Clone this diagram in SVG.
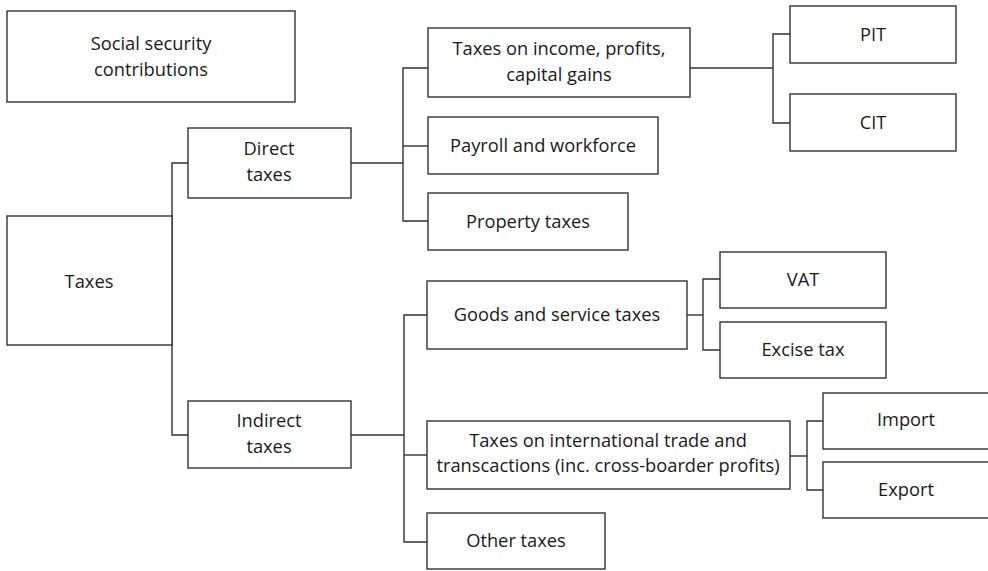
<svg xmlns="http://www.w3.org/2000/svg" width="988" height="571" viewBox="0 0 988 571">
  <style>
    .box { fill: #ffffff; stroke: #333333; stroke-width: 1.4; }
    .lbl { font-family: "Open Sans", "Liberation Sans", sans-serif; font-size: 18.3px; fill: #1a1a1a; text-anchor: middle; }
    .wire { fill: none; stroke: #333333; stroke-width: 1.4; }
  </style>
  <rect width="988" height="571" fill="#ffffff"/>

  <!-- tree connectors -->
  <g id="connectors">
    <!-- Taxes -> Direct / Indirect -->
    <polyline class="wire" points="188,163 172,163 172,435 188,435"/>
    <!-- Direct -> its three children -->
    <line class="wire" x1="351" y1="163" x2="403" y2="163"/>
    <polyline class="wire" points="428,68 403,68 403,221 428,221"/>
    <line class="wire" x1="403" y1="146" x2="428" y2="146"/>
    <!-- Income taxes -> PIT / CIT -->
    <line class="wire" x1="690" y1="68" x2="773" y2="68"/>
    <polyline class="wire" points="790,34 773,34 773,123 790,123"/>
    <!-- Indirect -> its three children -->
    <line class="wire" x1="351" y1="435" x2="404" y2="435"/>
    <polyline class="wire" points="427,315 404,315 404,542 427,542"/>
    <line class="wire" x1="404" y1="455" x2="427" y2="455"/>
    <!-- Goods and services -> VAT / Excise -->
    <line class="wire" x1="687" y1="315" x2="703" y2="315"/>
    <polyline class="wire" points="720,279 703,279 703,350 720,350"/>
    <!-- International trade -> Import / Export -->
    <line class="wire" x1="790" y1="456" x2="807" y2="456"/>
    <polyline class="wire" points="823,421 807,421 807,490 823,490"/>
  </g>

  <g id="social-security">
    <rect class="box" x="7" y="11" width="288" height="91"/>
    <text class="lbl" x="151" y="50">Social security</text>
    <text class="lbl" x="151" y="76">contributions</text>
  </g>

  <g id="taxes">
    <rect class="box" x="7" y="216" width="165" height="129"/>
    <text class="lbl" x="89" y="288">Taxes</text>
  </g>

  <g id="direct-taxes">
    <rect class="box" x="188" y="128" width="163" height="70"/>
    <text class="lbl" x="269" y="155">Direct</text>
    <text class="lbl" x="269" y="181">taxes</text>
  </g>

  <g id="indirect-taxes">
    <rect class="box" x="188" y="401" width="163" height="67"/>
    <text class="lbl" x="269" y="427">Indirect</text>
    <text class="lbl" x="269" y="453">taxes</text>
  </g>

  <g id="income-taxes">
    <rect class="box" x="428" y="28" width="262" height="69"/>
    <text class="lbl" x="559" y="55">Taxes on income, profits,</text>
    <text class="lbl" x="559" y="81">capital gains</text>
  </g>

  <g id="payroll">
    <rect class="box" x="428" y="117" width="230" height="57"/>
    <text class="lbl" x="543" y="152">Payroll and workforce</text>
  </g>

  <g id="property-taxes">
    <rect class="box" x="428" y="193" width="200" height="57"/>
    <text class="lbl" x="528" y="228">Property taxes</text>
  </g>

  <g id="pit">
    <rect class="box" x="790" y="6" width="166" height="57"/>
    <text class="lbl" x="873" y="41">PIT</text>
  </g>

  <g id="cit">
    <rect class="box" x="790" y="94" width="166" height="57"/>
    <text class="lbl" x="873" y="129">CIT</text>
  </g>

  <g id="goods-services">
    <rect class="box" x="427" y="281" width="260" height="68"/>
    <text class="lbl" x="557" y="321">Goods and service taxes</text>
  </g>

  <g id="vat">
    <rect class="box" x="720" y="252" width="166" height="56"/>
    <text class="lbl" x="803" y="286">VAT</text>
  </g>

  <g id="excise">
    <rect class="box" x="720" y="322" width="166" height="56"/>
    <text class="lbl" x="803" y="356">Excise tax</text>
  </g>

  <g id="international-trade">
    <rect class="box" x="427" y="421" width="363" height="68"/>
    <text class="lbl" x="608" y="447">Taxes on international trade and</text>
    <text class="lbl" x="608" y="472">transcactions (inc. cross-boarder profits)</text>
  </g>

  <g id="other-taxes">
    <rect class="box" x="427" y="513" width="178" height="56"/>
    <text class="lbl" x="516" y="547">Other taxes</text>
  </g>

  <g id="import">
    <rect class="box" x="823" y="393" width="170" height="56"/>
    <text class="lbl" x="906" y="426">Import</text>
  </g>

  <g id="export">
    <rect class="box" x="823" y="462" width="170" height="56"/>
    <text class="lbl" x="906" y="496">Export</text>
  </g>
</svg>
